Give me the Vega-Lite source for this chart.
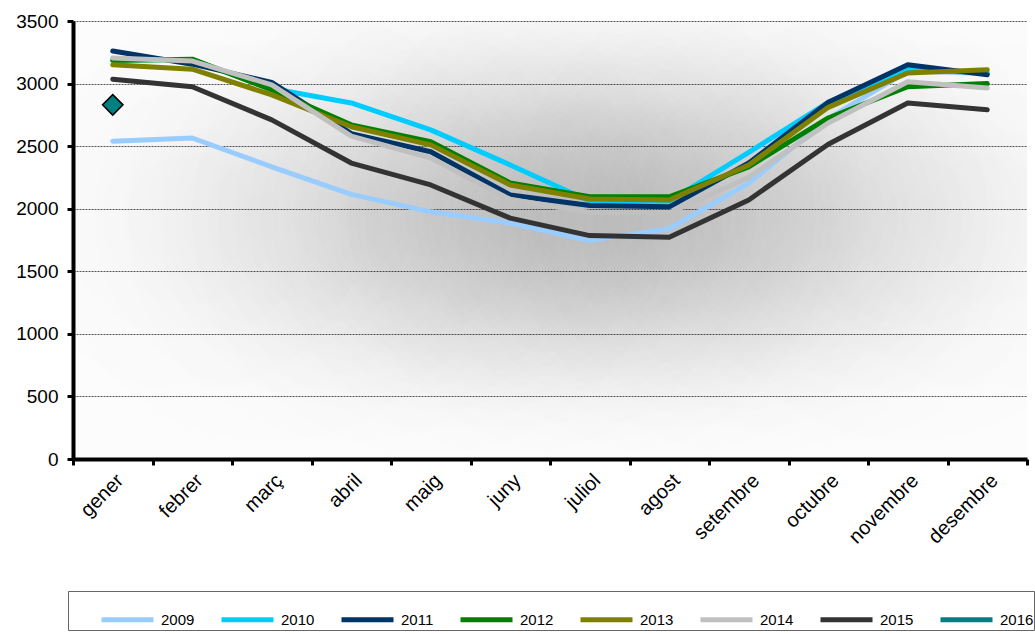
{
  "$schema": "https://vega.github.io/schema/vega-lite/v6.json",
  "width": 954,
  "height": 438,
  "autosize": {"type": "none"},
  "padding": {"left": 73, "top": 21, "right": 8, "bottom": 175},
  "background": "#ffffff",
  "config": {
    "font": "Liberation Sans",
    "axis": {"labelFont": "Liberation Sans"},
    "legend": {"labelFont": "Liberation Sans", "titleFont": "Liberation Sans"},
    "view": {"stroke": null, "fill": "#fcfcfc"}
  },
  "datasets": {
    "glow": [{}],
    "dades": [
      {"mes": "gener", "any": "2009", "v": 2540}, {"mes": "febrer", "any": "2009", "v": 2565}, {"mes": "març", "any": "2009", "v": 2335}, {"mes": "abril", "any": "2009", "v": 2115}, {"mes": "maig", "any": "2009", "v": 1975}, {"mes": "juny", "any": "2009", "v": 1885}, {"mes": "juliol", "any": "2009", "v": 1745}, {"mes": "agost", "any": "2009", "v": 1840}, {"mes": "setembre", "any": "2009", "v": 2205}, {"mes": "octubre", "any": "2009", "v": 2720}, {"mes": "novembre", "any": "2009", "v": 3100}, {"mes": "desembre", "any": "2009", "v": 3080},
      {"mes": "gener", "any": "2010", "v": 3190}, {"mes": "febrer", "any": "2010", "v": 3190}, {"mes": "març", "any": "2010", "v": 2960}, {"mes": "abril", "any": "2010", "v": 2845}, {"mes": "maig", "any": "2010", "v": 2630}, {"mes": "juny", "any": "2010", "v": 2350}, {"mes": "juliol", "any": "2010", "v": 2060}, {"mes": "agost", "any": "2010", "v": 2060}, {"mes": "setembre", "any": "2010", "v": 2450}, {"mes": "octubre", "any": "2010", "v": 2850}, {"mes": "novembre", "any": "2010", "v": 3115}, {"mes": "desembre", "any": "2010", "v": 3085},
      {"mes": "gener", "any": "2011", "v": 3260}, {"mes": "febrer", "any": "2011", "v": 3155}, {"mes": "març", "any": "2011", "v": 3010}, {"mes": "abril", "any": "2011", "v": 2600}, {"mes": "maig", "any": "2011", "v": 2455}, {"mes": "juny", "any": "2011", "v": 2110}, {"mes": "juliol", "any": "2011", "v": 2025}, {"mes": "agost", "any": "2011", "v": 2015}, {"mes": "setembre", "any": "2011", "v": 2365}, {"mes": "octubre", "any": "2011", "v": 2850}, {"mes": "novembre", "any": "2011", "v": 3150}, {"mes": "desembre", "any": "2011", "v": 3070},
      {"mes": "gener", "any": "2012", "v": 3185}, {"mes": "febrer", "any": "2012", "v": 3195}, {"mes": "març", "any": "2012", "v": 2950}, {"mes": "abril", "any": "2012", "v": 2670}, {"mes": "maig", "any": "2012", "v": 2535}, {"mes": "juny", "any": "2012", "v": 2205}, {"mes": "juliol", "any": "2012", "v": 2095}, {"mes": "agost", "any": "2012", "v": 2095}, {"mes": "setembre", "any": "2012", "v": 2335}, {"mes": "octubre", "any": "2012", "v": 2725}, {"mes": "novembre", "any": "2012", "v": 2975}, {"mes": "desembre", "any": "2012", "v": 3000},
      {"mes": "gener", "any": "2013", "v": 3150}, {"mes": "febrer", "any": "2013", "v": 3115}, {"mes": "març", "any": "2013", "v": 2910}, {"mes": "abril", "any": "2013", "v": 2655}, {"mes": "maig", "any": "2013", "v": 2510}, {"mes": "juny", "any": "2013", "v": 2190}, {"mes": "juliol", "any": "2013", "v": 2078}, {"mes": "agost", "any": "2013", "v": 2070}, {"mes": "setembre", "any": "2013", "v": 2350}, {"mes": "octubre", "any": "2013", "v": 2810}, {"mes": "novembre", "any": "2013", "v": 3085}, {"mes": "desembre", "any": "2013", "v": 3110},
      {"mes": "gener", "any": "2014", "v": 3205}, {"mes": "febrer", "any": "2014", "v": 3180}, {"mes": "març", "any": "2014", "v": 2990}, {"mes": "abril", "any": "2014", "v": 2580}, {"mes": "maig", "any": "2014", "v": 2405}, {"mes": "juny", "any": "2014", "v": 2075}, {"mes": "juliol", "any": "2014", "v": 1970}, {"mes": "agost", "any": "2014", "v": 1966}, {"mes": "setembre", "any": "2014", "v": 2250}, {"mes": "octubre", "any": "2014", "v": 2685}, {"mes": "novembre", "any": "2014", "v": 3015}, {"mes": "desembre", "any": "2014", "v": 2965},
      {"mes": "gener", "any": "2015", "v": 3035}, {"mes": "febrer", "any": "2015", "v": 2975}, {"mes": "març", "any": "2015", "v": 2710}, {"mes": "abril", "any": "2015", "v": 2365}, {"mes": "maig", "any": "2015", "v": 2190}, {"mes": "juny", "any": "2015", "v": 1925}, {"mes": "juliol", "any": "2015", "v": 1785}, {"mes": "agost", "any": "2015", "v": 1772}, {"mes": "setembre", "any": "2015", "v": 2070}, {"mes": "octubre", "any": "2015", "v": 2515}, {"mes": "novembre", "any": "2015", "v": 2845}, {"mes": "desembre", "any": "2015", "v": 2790},
      {"mes": "gener", "any": "2016", "v": 2830}
    ]
  },
  "layer": [
    {"data": {"name": "glow"}, "mark": {"type": "rect", "fill": {"gradient": "radial", "x1": 0.1226, "y1": 0.475, "r1": 0, "x2": 0.1226, "y2": 0.475, "r2": 0.262, "stops": [{"offset": 0, "color": "rgba(0,0,0,0.0164)"}, {"offset": 0.2, "color": "rgba(0,0,0,0.0139)"}, {"offset": 0.4, "color": "rgba(0,0,0,0.0098)"}, {"offset": 0.6, "color": "rgba(0,0,0,0.0049)"}, {"offset": 0.8, "color": "rgba(0,0,0,0.0016)"}, {"offset": 1, "color": "rgba(0,0,0,0)"}]}}, "encoding": {"y": {"datum": 0, "type": "quantitative"}, "y2": {"datum": 3500}}},
    {"data": {"name": "glow"}, "mark": {"type": "rect", "fill": {"gradient": "radial", "x1": 0.2065, "y1": 0.475, "r1": 0, "x2": 0.2065, "y2": 0.475, "r2": 0.262, "stops": [{"offset": 0, "color": "rgba(0,0,0,0.0321)"}, {"offset": 0.2, "color": "rgba(0,0,0,0.0273)"}, {"offset": 0.4, "color": "rgba(0,0,0,0.0193)"}, {"offset": 0.6, "color": "rgba(0,0,0,0.0096)"}, {"offset": 0.8, "color": "rgba(0,0,0,0.0032)"}, {"offset": 1, "color": "rgba(0,0,0,0)"}]}}, "encoding": {"y": {"datum": 0, "type": "quantitative"}, "y2": {"datum": 3500}}},
    {"data": {"name": "glow"}, "mark": {"type": "rect", "fill": {"gradient": "radial", "x1": 0.2904, "y1": 0.475, "r1": 0, "x2": 0.2904, "y2": 0.475, "r2": 0.262, "stops": [{"offset": 0, "color": "rgba(0,0,0,0.0542)"}, {"offset": 0.2, "color": "rgba(0,0,0,0.0461)"}, {"offset": 0.4, "color": "rgba(0,0,0,0.0325)"}, {"offset": 0.6, "color": "rgba(0,0,0,0.0163)"}, {"offset": 0.8, "color": "rgba(0,0,0,0.0054)"}, {"offset": 1, "color": "rgba(0,0,0,0)"}]}}, "encoding": {"y": {"datum": 0, "type": "quantitative"}, "y2": {"datum": 3500}}},
    {"data": {"name": "glow"}, "mark": {"type": "rect", "fill": {"gradient": "radial", "x1": 0.3742, "y1": 0.475, "r1": 0, "x2": 0.3742, "y2": 0.475, "r2": 0.262, "stops": [{"offset": 0, "color": "rgba(0,0,0,0.0787)"}, {"offset": 0.2, "color": "rgba(0,0,0,0.0669)"}, {"offset": 0.4, "color": "rgba(0,0,0,0.0472)"}, {"offset": 0.6, "color": "rgba(0,0,0,0.0236)"}, {"offset": 0.8, "color": "rgba(0,0,0,0.0079)"}, {"offset": 1, "color": "rgba(0,0,0,0)"}]}}, "encoding": {"y": {"datum": 0, "type": "quantitative"}, "y2": {"datum": 3500}}},
    {"data": {"name": "glow"}, "mark": {"type": "rect", "fill": {"gradient": "radial", "x1": 0.4581, "y1": 0.475, "r1": 0, "x2": 0.4581, "y2": 0.475, "r2": 0.262, "stops": [{"offset": 0, "color": "rgba(0,0,0,0.0984)"}, {"offset": 0.2, "color": "rgba(0,0,0,0.0836)"}, {"offset": 0.4, "color": "rgba(0,0,0,0.059)"}, {"offset": 0.6, "color": "rgba(0,0,0,0.0295)"}, {"offset": 0.8, "color": "rgba(0,0,0,0.0098)"}, {"offset": 1, "color": "rgba(0,0,0,0)"}]}}, "encoding": {"y": {"datum": 0, "type": "quantitative"}, "y2": {"datum": 3500}}},
    {"data": {"name": "glow"}, "mark": {"type": "rect", "fill": {"gradient": "radial", "x1": 0.5419, "y1": 0.475, "r1": 0, "x2": 0.5419, "y2": 0.475, "r2": 0.262, "stops": [{"offset": 0, "color": "rgba(0,0,0,0.106)"}, {"offset": 0.2, "color": "rgba(0,0,0,0.0901)"}, {"offset": 0.4, "color": "rgba(0,0,0,0.0636)"}, {"offset": 0.6, "color": "rgba(0,0,0,0.0318)"}, {"offset": 0.8, "color": "rgba(0,0,0,0.0106)"}, {"offset": 1, "color": "rgba(0,0,0,0)"}]}}, "encoding": {"y": {"datum": 0, "type": "quantitative"}, "y2": {"datum": 3500}}},
    {"data": {"name": "glow"}, "mark": {"type": "rect", "fill": {"gradient": "radial", "x1": 0.6258, "y1": 0.475, "r1": 0, "x2": 0.6258, "y2": 0.475, "r2": 0.262, "stops": [{"offset": 0, "color": "rgba(0,0,0,0.0984)"}, {"offset": 0.2, "color": "rgba(0,0,0,0.0836)"}, {"offset": 0.4, "color": "rgba(0,0,0,0.059)"}, {"offset": 0.6, "color": "rgba(0,0,0,0.0295)"}, {"offset": 0.8, "color": "rgba(0,0,0,0.0098)"}, {"offset": 1, "color": "rgba(0,0,0,0)"}]}}, "encoding": {"y": {"datum": 0, "type": "quantitative"}, "y2": {"datum": 3500}}},
    {"data": {"name": "glow"}, "mark": {"type": "rect", "fill": {"gradient": "radial", "x1": 0.7096, "y1": 0.475, "r1": 0, "x2": 0.7096, "y2": 0.475, "r2": 0.262, "stops": [{"offset": 0, "color": "rgba(0,0,0,0.0787)"}, {"offset": 0.2, "color": "rgba(0,0,0,0.0669)"}, {"offset": 0.4, "color": "rgba(0,0,0,0.0472)"}, {"offset": 0.6, "color": "rgba(0,0,0,0.0236)"}, {"offset": 0.8, "color": "rgba(0,0,0,0.0079)"}, {"offset": 1, "color": "rgba(0,0,0,0)"}]}}, "encoding": {"y": {"datum": 0, "type": "quantitative"}, "y2": {"datum": 3500}}},
    {"data": {"name": "glow"}, "mark": {"type": "rect", "fill": {"gradient": "radial", "x1": 0.7935, "y1": 0.475, "r1": 0, "x2": 0.7935, "y2": 0.475, "r2": 0.262, "stops": [{"offset": 0, "color": "rgba(0,0,0,0.0542)"}, {"offset": 0.2, "color": "rgba(0,0,0,0.0461)"}, {"offset": 0.4, "color": "rgba(0,0,0,0.0325)"}, {"offset": 0.6, "color": "rgba(0,0,0,0.0163)"}, {"offset": 0.8, "color": "rgba(0,0,0,0.0054)"}, {"offset": 1, "color": "rgba(0,0,0,0)"}]}}, "encoding": {"y": {"datum": 0, "type": "quantitative"}, "y2": {"datum": 3500}}},
    {"data": {"name": "glow"}, "mark": {"type": "rect", "fill": {"gradient": "radial", "x1": 0.8774, "y1": 0.475, "r1": 0, "x2": 0.8774, "y2": 0.475, "r2": 0.262, "stops": [{"offset": 0, "color": "rgba(0,0,0,0.0321)"}, {"offset": 0.2, "color": "rgba(0,0,0,0.0273)"}, {"offset": 0.4, "color": "rgba(0,0,0,0.0193)"}, {"offset": 0.6, "color": "rgba(0,0,0,0.0096)"}, {"offset": 0.8, "color": "rgba(0,0,0,0.0032)"}, {"offset": 1, "color": "rgba(0,0,0,0)"}]}}, "encoding": {"y": {"datum": 0, "type": "quantitative"}, "y2": {"datum": 3500}}},
    {"data": {"name": "glow"}, "mark": {"type": "rect", "fill": {"gradient": "radial", "x1": 0.9612, "y1": 0.475, "r1": 0, "x2": 0.9612, "y2": 0.475, "r2": 0.262, "stops": [{"offset": 0, "color": "rgba(0,0,0,0.0164)"}, {"offset": 0.2, "color": "rgba(0,0,0,0.0139)"}, {"offset": 0.4, "color": "rgba(0,0,0,0.0098)"}, {"offset": 0.6, "color": "rgba(0,0,0,0.0049)"}, {"offset": 0.8, "color": "rgba(0,0,0,0.0016)"}, {"offset": 1, "color": "rgba(0,0,0,0)"}]}}, "encoding": {"y": {"datum": 0, "type": "quantitative"}, "y2": {"datum": 3500}}},
    {
      "data": {"name": "dades"},
      "transform": [{"filter": "datum.any != '2016'"}],
      "mark": {"type": "line", "strokeWidth": 5, "strokeJoin": "round", "strokeCap": "round"},
      "encoding": {
        "x": {
          "field": "mes", "type": "ordinal",
          "sort": ["gener", "febrer", "març", "abril", "maig", "juny", "juliol", "agost", "setembre", "octubre", "novembre", "desembre"],
          "scale": {"type": "band", "paddingInner": 0, "paddingOuter": 0},
          "axis": {
            "title": null, "labelAngle": -45, "labelFontSize": 20, "labelColor": "#000000", "labelFont": "Liberation Sans",
            "domainColor": "#000000", "domainWidth": 4, "tickColor": "#000000", "tickWidth": 3, "tickSize": 6,
            "tickBand": "extent", "labelPadding": 5, "labelDx": -4, "grid": false
          }
        },
        "y": {
          "field": "v", "type": "quantitative",
          "scale": {"domain": [0, 3500], "nice": false},
          "axis": {
            "title": null, "values": [0, 500, 1000, 1500, 2000, 2500, 3000, 3500], "format": "d",
            "labelFontSize": 19, "labelColor": "#000000", "labelPadding": 9, "labelFont": "Liberation Sans",
            "domainColor": "#000000", "domainWidth": 4, "tickColor": "#000000", "tickWidth": 3, "tickSize": 6,
            "grid": true, "gridColor": "#555555", "gridDash": [2, 1], "gridWidth": 1
          }
        },
        "color": {
          "field": "any", "type": "nominal",
          "scale": {
            "domain": ["2009", "2010", "2011", "2012", "2013", "2014", "2015", "2016"],
            "range": ["#99CCFF", "#00CCFF", "#003366", "#008000", "#808000", "#C0C0C0", "#333333", "#008080"]
          },
          "legend": {
            "title": " ", "titleOrient": "left", "titleFontSize": 1, "titlePadding": 31,
            "orient": "none", "direction": "horizontal", "legendX": -5, "legendY": 570,
            "symbolType": "stroke", "symbolSize": 2704, "symbolStrokeWidth": 5,
            "labelFontSize": 15, "labelFontWeight": "normal", "labelColor": "#000000", "labelOffset": 5, "columnPadding": 16,
            "padding": 0, "strokeColor": "#666666", "fillColor": "#ffffff", "cornerRadius": 0
          }
        }
      }
    },
    {
      "data": {"name": "dades"},
      "transform": [{"filter": "datum.any == '2016'"}],
      "mark": {"type": "point", "shape": "diamond", "size": 420, "filled": true, "fill": "#008080", "stroke": "#000000", "strokeWidth": 1.5, "opacity": 1},
      "encoding": {
        "x": {"field": "mes", "type": "ordinal", "sort": ["gener", "febrer", "març", "abril", "maig", "juny", "juliol", "agost", "setembre", "octubre", "novembre", "desembre"]},
        "y": {"field": "v", "type": "quantitative"}
      }
    }
  ]
}
